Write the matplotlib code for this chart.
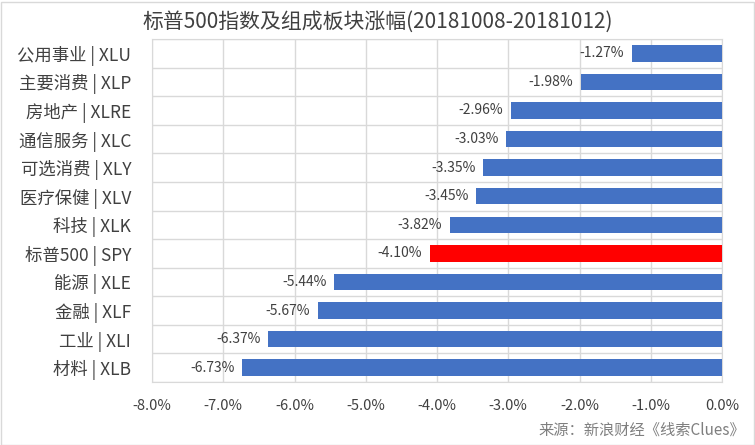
import numpy as np
import matplotlib.pyplot as plt
from matplotlib.patches import Rectangle

plt.rcParams['font.family'] = ['Noto Sans CJK SC', 'DejaVu Sans']

labels = ['公用事业 | XLU', '主要消费 | XLP', '房地产 | XLRE', '通信服务 | XLC',
          '可选消费 | XLY', '医疗保健 | XLV', '科技 | XLK', '标普500 | SPY',
          '能源 | XLE', '金融 | XLF', '工业 | XLI', '材料 | XLB']
values = [-1.27, -1.98, -2.96, -3.03, -3.35, -3.45, -3.82, -4.10,
          -5.44, -5.67, -6.37, -6.73]
xticks = np.arange(-8, 0.5, 1.0)

colors = ['#FF0000' if 'SPY' in l else '#4472C4' for l in labels]
txt = '#404040'

fig = plt.figure(figsize=(7.55, 4.45), dpi=100)
ax = fig.add_axes([152/755, 1 - 382/445, 570/755, 343/445])

y = np.arange(len(labels))
ax.barh(y, values, height=0.58, color=colors, zorder=3)
ax.set_ylim(len(labels) - 0.5, -0.5)
ax.set_xlim(-8, 0)

for yi, v in zip(y, values):
    ax.text(v - 0.11, yi, '%.2f%%' % v, ha='right', va='center',
            fontsize=10, color=txt, zorder=4)

ax.set_xticks(xticks)
ax.set_xticklabels(['%.1f%%' % t for t in xticks], fontsize=10.5, color=txt)
ax.set_yticks(y)
ax.set_yticklabels(labels, fontsize=12.5, color=txt)
ax.set_yticks(np.arange(-0.5, len(labels), 1), minor=True)
ax.tick_params(axis='both', length=0, which='both')
ax.tick_params(axis='x', pad=12)
ax.tick_params(axis='y', pad=15)

ax.grid(axis='x', color='#D9D9D9', lw=1, zorder=0)
ax.grid(axis='y', which='minor', color='#D9D9D9', lw=1, zorder=0)
for s in ax.spines.values():
    s.set_color('#D9D9D9')

fig.text(0.5, 1 - 22/445, '标普500指数及组成板块涨幅(20181008-20181012)',
         ha='center', va='center', fontsize=15, color=txt)
fig.text(745/755, 1 - 430/445, '来源：新浪财经《线索Clues》',
         ha='right', va='center', fontsize=11, color='#7F7F7F')

fig.patches.append(Rectangle((0.5/755, 0.5/445), 753/755, 443/445,
                             transform=fig.transFigure, fill=False,
                             edgecolor='#D9D9D9', lw=1))

fig.savefig('out.png', dpi=100)
